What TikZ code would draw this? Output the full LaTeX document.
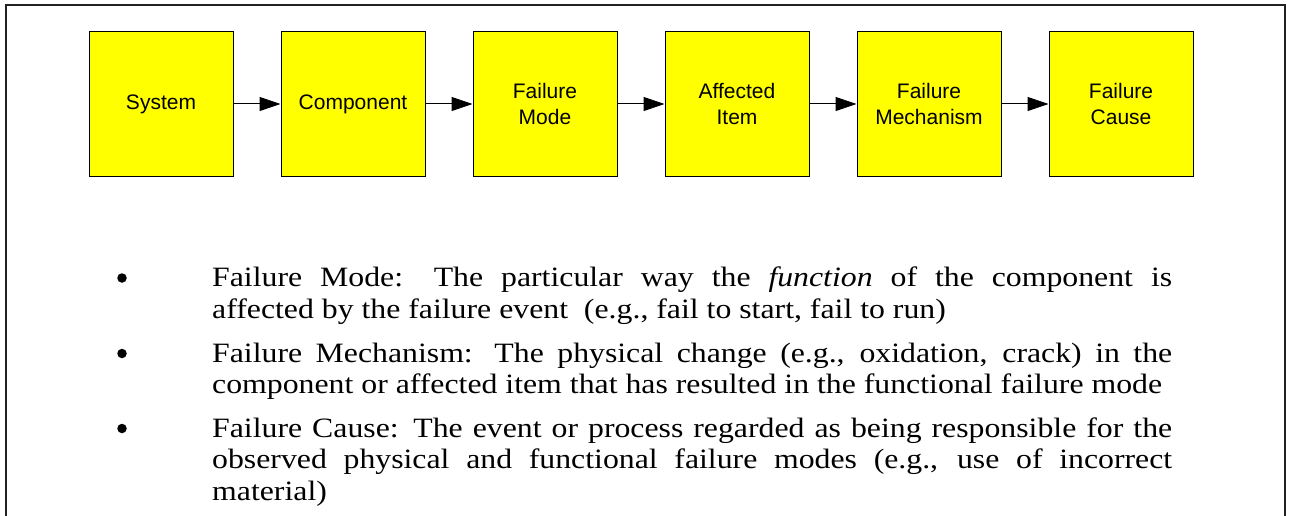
\documentclass[tikz,border=0pt]{standalone}
\usepackage{fontspec}
\setmainfont[FakeStretch=1.135]{Liberation Serif}
\setsansfont{Liberation Sans}
\usetikzlibrary{arrows.meta}
\definecolor{boxyellow}{HTML}{FFFF00}
\definecolor{framegray}{HTML}{222222}
\begin{document}
\begin{tikzpicture}[x=1pt,y=-1pt,
  stagebox/.style={draw=black, line width=1pt, fill=boxyellow, minimum width=144pt, minimum height=144pt,
    inner sep=0pt, align=center, font=\sffamily\fontsize{21}{25.5}\selectfont},
  flowarrow/.style={line width=1pt, -{Triangle[length=21pt,width=14pt]}},
  itemtext/.style={anchor=base west, inner sep=0pt, text width=960pt, align=justify,
    font=\rmfamily\fontsize{28}{31.5}\selectfont},
  bulletdot/.style={circle, fill=black, inner sep=0pt, minimum size=9.5pt}]
\useasboundingbox (0,0) rectangle (1289,516);
\fill[white] (0,0) rectangle (1289,516);
\draw[framegray, line width=2pt] (6,530) -- (6,5.5) -- (1284.5,5.5) -- (1284.5,530);

\node[stagebox] (sys)  at (161,104) {System};
\node[stagebox] (comp) at (353,104) {Component};
\node[stagebox] (fm)   at (545,104) {Failure\\Mode};
\node[stagebox] (ai)   at (737,104) {Affected\\Item};
\node[stagebox] (mech) at (929,104) {Failure\\Mechanism};
\node[stagebox] (fc)   at (1121,104) {Failure\\Cause};

\draw[flowarrow] (sys) -- (comp);
\draw[flowarrow] (comp) -- (fm);
\draw[flowarrow] (fm) -- (ai);
\draw[flowarrow] (ai) -- (mech);
\draw[flowarrow] (mech) -- (fc);

\node[bulletdot] (b1) at (122,278) {};
\node[bulletdot] (b2) at (122,353.5) {};
\node[bulletdot] (b3) at (122,428.5) {};

\node[itemtext] (t1) at (212,286.5) {\tolerance=10000\hyphenpenalty=10000 Failure Mode: The particular way the \textit{function} of the component is\linebreak affected by the failure event\ \ (e.g., fail to start, fail to run)};
\node[itemtext] (t2) at (212,362) {\tolerance=10000\hyphenpenalty=10000 Failure Mechanism: The physical change (e.g., oxidation, crack) in the\linebreak component or affected item that has resulted in the functional failure mode};
\node[itemtext] (t3) at (212,437) {\tolerance=10000\hyphenpenalty=10000 Failure Cause: The event or process regarded as being responsible for the\linebreak observed physical and functional failure modes (e.g., use of incorrect\linebreak material)};
\end{tikzpicture}
\end{document}
